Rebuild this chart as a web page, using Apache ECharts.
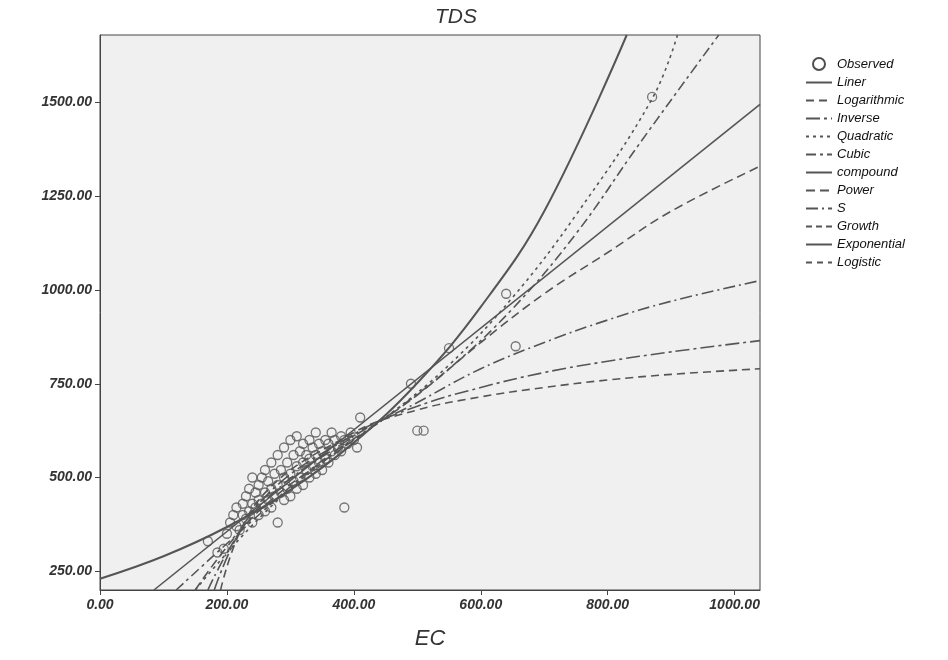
<!DOCTYPE html>
<html><head><meta charset="utf-8">
<script src="https://cdn.jsdelivr.net/npm/echarts@6/dist/echarts.min.js"></script>
<style>html,body{margin:0;background:#fff}#c{width:948px;height:660px}</style>
</head><body><div id="c"></div>
<script>
// observed EC / TDS points
const observed = [
  [170,330],[185,300],[195,310],[200,350],[205,380],[210,400],[215,370],[215,420],[220,360],[225,400],
  [225,430],[230,390],[230,450],[235,410],[235,470],[240,380],[240,430],[240,500],[245,420],[245,460],
  [250,400],[250,440],[250,480],[255,430],[255,500],[260,410],[260,460],[260,520],[265,440],[265,490],
  [270,420],[270,470],[270,540],[275,450],[275,510],[280,380],[280,480],[280,560],[285,460],[285,520],
  [290,440],[290,500],[290,580],[295,470],[295,540],[300,450],[300,510],[300,600],[305,490],[305,560],
  [310,470],[310,530],[310,610],[315,500],[315,570],[320,480],[320,540],[320,590],[325,520],[325,560],
  [330,500],[330,550],[330,600],[335,530],[335,580],[340,510],[340,560],[340,620],[345,540],[345,590],
  [350,520],[350,570],[355,550],[355,600],[360,540],[360,590],[365,570],[365,620],[370,560],[370,600],
  [375,580],[380,570],[380,610],[385,420],[385,600],[390,590],[395,620],[400,600],[405,580],[410,660],
  [490,750],[500,625],[510,625],[550,845],[640,990],[655,850],[870,1515]
];
const linerPts = [[85,200],[1040,1495]];
const compoundPts = [[0,230],[100,290],[200,368],[300,467],[400,593],[500,752],[600,955],[700,1210],[830,1680]];
const quadraticPts = [[150,200],[250,390],[350,540],[450,660],[550,800],[650,980],[750,1200],[870,1510],[910,1680]];
const cubicPts = [[120,200],[250,400],[350,545],[450,660],[550,790],[650,950],[750,1150],[850,1390],[975,1680]];
const powerPts = [[150,200],[250,410],[400,600],[500,720],[600,860],[700,990],[800,1100],[900,1210],[1040,1330]];
const sPts = [[170,200],[250,420],[400,610],[500,700],[600,790],[700,860],[800,920],[900,970],[1040,1025]];
const inversePts = [[180,200],[250,430],[400,615],[500,690],[600,740],[700,780],[800,810],[900,835],[1040,865]];
const logPts = [[190,200],[250,440],[400,620],[500,680],[600,715],[700,740],[800,760],[900,775],[1040,790]];

const names = ['Observed','Liner','Logarithmic','Inverse','Quadratic','Cubic','compound','Power','S','Growth','Exponential','Logistic'];
const grey = '#555';
function ln(name, data, type, w) {
  return {name, type:'line', data, symbol:'none', smooth:0.4, z:3,
    lineStyle:{color:grey, width:w||1.6, type}, itemStyle:{color:grey}};
}
const series = [
  {name:'Observed', type:'scatter', data:observed, symbol:'circle', symbolSize:9,
   itemStyle:{color:'transparent', borderColor:'#555', borderWidth:1.3}, z:4},
  ln('Liner', linerPts, 'solid'),
  ln('Logarithmic', logPts, [8,5]),
  ln('Inverse', inversePts, [14,4,3,4]),
  ln('Quadratic', quadraticPts, [3,4]),
  ln('Cubic', cubicPts, [10,4,3,4]),
  ln('compound', compoundPts, 'solid', 2),
  ln('Power', powerPts, [9,5]),
  ln('S', sPts, [12,4,2,4]),
  ln('Growth', [], [6,4]),
  ln('Exponential', [], 'solid'),
  ln('Logistic', [], [6,5])
];
const legendData = names.map(n => n === 'Observed'
  ? {name:n, icon:'circle', itemStyle:{color:'transparent', borderColor:'#222', borderWidth:2}}
  : {name:n, itemStyle:{color:'transparent', borderWidth:0}});
const tick = [250,500,750,1000,1250,1500];
const font = {fontFamily:'Liberation Sans', fontStyle:'italic', fontWeight:'bold', color:'#333'};
const chart = echarts.init(document.getElementById('c'));
chart.setOption({
  animation:false,
  title:{text:'TDS', left:430, top:2, textStyle:{...font, fontSize:21, fontWeight:'normal'}},
  grid:{left:100, right:188, top:35, bottom:70, backgroundColor:'#f0f0f0', show:true, borderColor:'#444'},
  xAxis:{type:'value', min:0, max:1040, interval:200, name:'EC', nameLocation:'middle', nameGap:38,
    nameTextStyle:{...font, fontSize:22, fontWeight:'normal'},
    axisLine:{lineStyle:{color:'#444'}}, splitLine:{show:false},
    axisLabel:{...font, fontSize:14, formatter:v=>v.toFixed(2)}},
  yAxis:{type:'value', min:200, max:1680,
    axisLine:{show:true, lineStyle:{color:'#444'}}, splitLine:{show:false},
    axisTick:{customValues:tick},
    axisLabel:{...font, fontSize:14, customValues:tick, formatter:v=>v.toFixed(2)}},
  legend:{orient:'vertical', left:800, top:52, itemGap:5, itemWidth:26, itemHeight:12, data:legendData,
    textStyle:{...font, fontSize:13, fontWeight:'normal', color:'#111'}},
  series
});
</script></body></html>
